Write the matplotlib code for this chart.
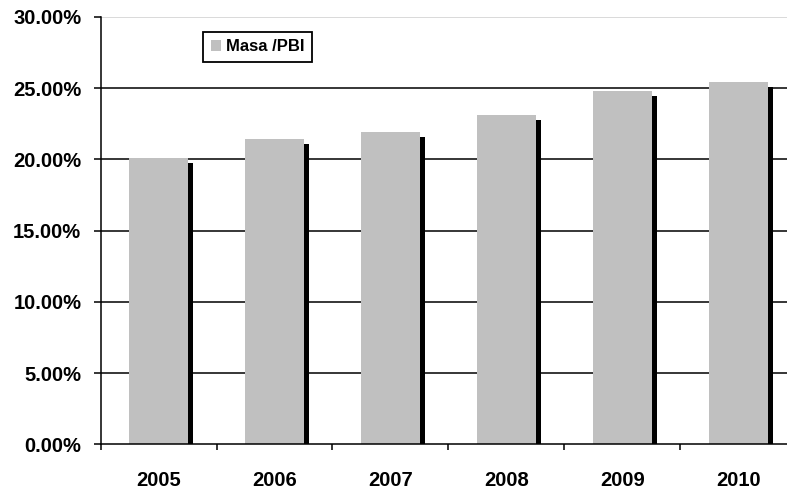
import matplotlib.pyplot as plt
import numpy as np

plt.rcParams['font.family'] = ['Liberation Sans', 'DejaVu Sans']
plt.rcParams['font.weight'] = 'bold'

years = ['2005', '2006', '2007', '2008', '2009', '2010']
masa_pbi = [20.1, 21.46, 21.93, 23.12, 24.83, 25.44]
y_ticks = [0, 5, 10, 15, 20, 25, 30]

x = np.arange(len(years))
bar_w = 0.51
dx = 0.043   # shadow offset, category units
dy = 0.35    # shadow offset, percent

fig = plt.figure(figsize=(7.87, 4.90), dpi=100)
ax = fig.add_axes([100.7 / 787, 45.7 / 490, 695.4 / 787, 427.3 / 490])

# gridlines
for t in y_ticks[1:-1]:
    ax.axhline(t, color='black', lw=1.1, zorder=0)
ax.axhline(30, color='#d0d0d0', lw=1.1, zorder=0)

# shadow then bars
ax.bar(x + dx, np.array(masa_pbi) - dy, width=bar_w, color='black', zorder=1)
ax.bar(x, masa_pbi, width=bar_w, color='#c0c0c0', zorder=2, label='Masa /PBI')

ax.set_xlim(-0.5, 5.5)
ax.set_ylim(0, 30)
ax.set_yticks(y_ticks)
ax.set_yticklabels(['%.2f%%' % t for t in y_ticks])
ax.set_xticks(np.arange(-0.5, 6.0, 1.0))
ax.set_xticklabels([])
ax.set_xticks(x, minor=True)
ax.set_xticklabels(years, minor=True)

ax.tick_params(axis='y', length=5, width=1.1, pad=9, labelsize=14.5)
ax.tick_params(axis='x', which='major', length=4.5, width=1.1)
ax.tick_params(axis='x', which='minor', length=0, pad=19, labelsize=14.5)

ax.spines['top'].set_visible(False)
ax.spines['right'].set_visible(False)
ax.spines['left'].set_linewidth(1.1)
ax.spines['bottom'].set_linewidth(1.1)
ax.spines['left'].set_zorder(3)
ax.spines['bottom'].set_zorder(3)

leg = fig.legend(loc='upper left', bbox_to_anchor=(203 / 787, 1 - 31.7 / 490),
                 borderaxespad=0, fancybox=False, edgecolor='black',
                 framealpha=1, handlelength=0.6, handleheight=0.6,
                 handletextpad=0.3, borderpad=0.45,
                 prop={'size': 12, 'weight': 'bold'})
leg.get_frame().set_linewidth(1.3)

fig.savefig('out.png', dpi=100)
